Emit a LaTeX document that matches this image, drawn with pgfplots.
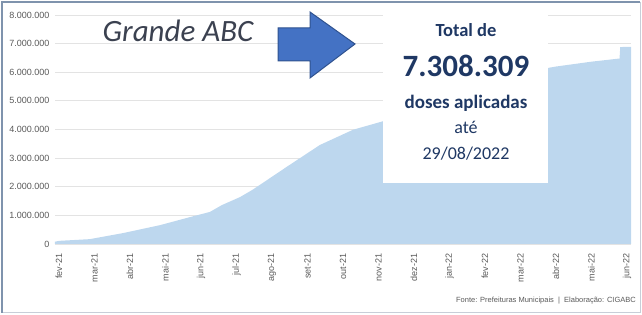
\documentclass[border=0pt]{standalone}
\usepackage{pgfplots}
\pgfplotsset{compat=1.18}
\usepackage{fontspec}
\setmainfont{Liberation Sans}
\newfontfamily\carlito{Carlito}
\definecolor{areablue}{HTML}{BDD7EE}
\definecolor{gridgrey}{HTML}{E3E3E3}
\definecolor{labelgrey}{HTML}{595959}
\definecolor{arrowfill}{HTML}{4472C4}
\definecolor{arrowdraw}{HTML}{2F528F}
\definecolor{navy}{HTML}{1F3864}
\definecolor{titlegrey}{HTML}{3B4150}
\definecolor{frameblue}{HTML}{7F93AD}
\definecolor{framelight}{HTML}{C8CED8}
\begin{document}
\begin{tikzpicture}
\path[use as bounding box] (-55pt,-71pt) rectangle (587pt,244pt);
\begin{axis}[
  at={(0pt,0pt)}, anchor=south west,
  scale only axis, width=576pt, height=229pt,
  xmin=-0.1127, xmax=16.113, ymin=0, ymax=8000000,
  scaled y ticks=false,
  axis line style={draw=none},
  major tick length=0pt,
  xtick={0,1,...,16},
  xticklabels={fev-21,mar-21,abr-21,mai-21,jun-21,jul-21,ago-21,set-21,out-21,nov-21,dez-21,jan-22,fev-22,mar-22,abr-22,mai-22,jun-22},
  xticklabel style={rotate=90, anchor=east, font=\fontsize{9}{10}\selectfont, text=labelgrey},
  xticklabel shift=6pt,
  ytick={0,1000000,2000000,3000000,4000000,5000000,6000000,7000000,8000000},
  yticklabels={0,1.000.000,2.000.000,3.000.000,4.000.000,5.000.000,6.000.000,7.000.000,8.000.000},
  yticklabel style={font=\fontsize{9}{10}\selectfont, text=labelgrey},
  yticklabel shift=2pt,
  ymajorgrids, grid style={gridgrey, line width=0.8pt},
  clip=false,
]
\addplot[fill=areablue, draw=none] coordinates {
(-0.1127,80000) (0,110000) (0.87,170000) (1.8,380000) (2.85,660000)
(3.69,940000) (4.25,1120000) (4.59,1360000) (5.1,1640000) (5.46,1900000)
(6.42,2700000) (7.35,3460000) (8.28,3990000) (8.96,4230000) (9.3,4350000)
(10,4900000) (11,5500000) (12,5850000) (13,6050000) (13.77,6150000)
(14,6200000) (15,6370000) (15.79,6480000) (15.81,6880000) (16.113,6890000)
} \closedcycle;
\end{axis}
% frame
\draw[framelight, line width=1pt] (585pt,242pt) -- (585pt,-69pt) -- (-53pt,-69pt);
\draw[frameblue, line width=1.5pt] (-53pt,-69pt) -- (-53pt,242pt) -- (585pt,242pt);
% white box
\fill[white] (328pt,61pt) rectangle (493pt,237pt);
% arrow
\filldraw[fill=arrowfill, draw=arrowdraw, line width=1pt, line join=miter]
  (223pt,216pt) -- (255pt,216pt) -- (255pt,232pt) -- (300pt,200pt) -- (255pt,166pt) -- (255pt,183pt) -- (223pt,183pt) -- cycle;
% title
\node[anchor=base, inner sep=0pt, text=titlegrey, font=\carlito\itshape\fontsize{31}{34}\selectfont] at (123pt,202pt) {Grande ABC};
% box texts
\node[anchor=base, inner sep=0pt, text=navy, font=\carlito\bfseries\fontsize{18.5}{20}\selectfont] at (411pt,207pt) {Total de};
\node[anchor=base, inner sep=0pt, text=navy, font=\carlito\bfseries\fontsize{31}{34}\selectfont] at (411pt,167pt) {7.308.309};
\node[anchor=base, inner sep=0pt, text=navy, font=\carlito\bfseries\fontsize{19}{21}\selectfont] at (411pt,135pt) {doses aplicadas};
\node[anchor=base, inner sep=0pt, text=navy, font=\carlito\fontsize{18}{20}\selectfont] at (411pt,110pt) {até};
\node[anchor=base, inner sep=0pt, text=navy, font=\carlito\fontsize{18}{20}\selectfont] at (411pt,84pt) {29/08/2022};
% footer
\node[anchor=base east, inner sep=0pt, text=labelgrey, font=\fontsize{7.5}{8}\selectfont] at (581pt,-59pt) {Fonte: Prefeituras Municipais~~|~~Elaboração: CIGABC};
\end{tikzpicture}
\end{document}
